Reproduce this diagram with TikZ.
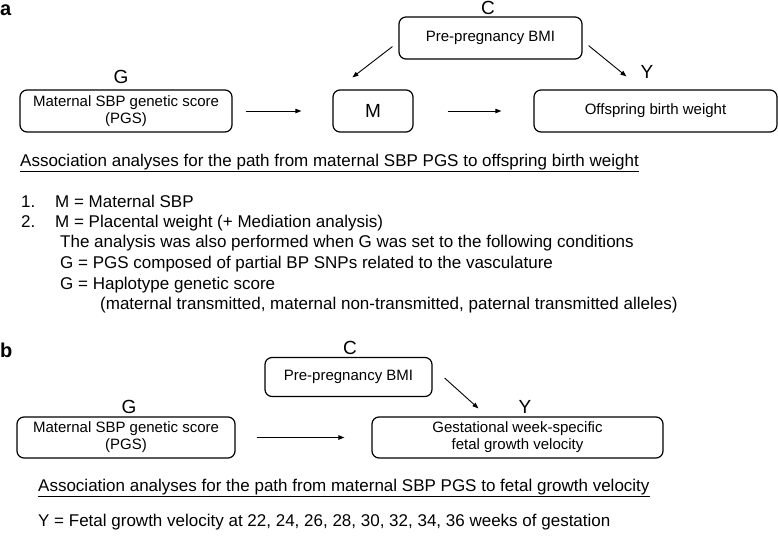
\documentclass[tikz,border=0pt]{standalone}
\usepackage{fontspec}
\setmainfont{Liberation Sans}
\usetikzlibrary{arrows.meta}
\begin{document}
\begin{tikzpicture}[x=1pt,y=-1pt,
 box/.style={draw, rounded corners=7pt, line width=1.2pt, inner sep=0pt, align=center, font=\fontsize{15}{17}\selectfont},
 lbl/.style={font=\fontsize{19}{20}\selectfont, inner sep=0pt},
 txt/.style={font=\fontsize{17}{20}\selectfont, inner sep=0pt, anchor=west, text height=12.5pt, text depth=3.5pt},
 panel/.style={font=\fontsize{20}{20}\selectfont\bfseries, inner sep=0pt, anchor=west},
 arr/.style={-{Triangle[length=6pt,width=4.5pt]}, line width=0.9pt}]
\useasboundingbox (0,0) rectangle (778,538);

% ---------- panel a ----------
\node[panel] (pa) at (0,10) {a};
\node[box, minimum width=212pt, minimum height=42pt] (Ga) at (126,111) {Maternal SBP genetic score\\(PGS)};
\node[box, minimum width=80pt, minimum height=42pt, font=\fontsize{19}{20}\selectfont] (Ma) at (373,111) {M};
\node[box, minimum width=243pt, minimum height=42pt] (Ya) at (655.5,111) {Offspring birth weight};
\node[box, minimum width=183pt, minimum height=42pt] (Ca) at (490.5,38) {Pre-pregnancy BMI};
\node[lbl] (lGa) at (121,77) {G};
\node[lbl] (lCa) at (488,8) {C};
\node[lbl] (lYa) at (647,72) {Y};

\draw[arr, shorten <=13pt, shorten >=31pt] (Ga.east) -- (Ma.west);
\draw[arr, shorten <=34pt, shorten >=32pt] (Ma.east) -- (Ya.west);
\draw[arr] ([shift={(-6,-13)}]Ca.south west) -- ([shift={(20,-12)}]Ma.north west);
\draw[arr] ([shift={(6,-14)}]Ca.south east) -- ([shift={(93,-13)}]Ya.north west);

\node[txt] (ha) at (20,162) {\underline{Association analyses for the path from maternal SBP PGS to offspring birth weight}};
\node[txt] (n1) at (21,203) {1.};
\node[txt] (t1) at (55,203) {M = Maternal SBP};
\node[txt] (n2) at (21,223) {2.};
\node[txt] (t2) at (55,223) {M = Placental weight (+ Mediation analysis)};
\node[txt] (t3) at (60,243) {The analysis was also performed when G was set to the following conditions};
\node[txt] (t4) at (60,264) {G = PGS composed of partial BP SNPs related to the vasculature};
\node[txt] (t5) at (60,285) {G = Haplotype genetic score};
\node[txt] (t6) at (100,305) {(maternal transmitted, maternal non-transmitted, paternal transmitted alleles)};

% ---------- panel b ----------
\node[panel] (pb) at (0,350) {b};
\node[box, minimum width=167pt, minimum height=39pt] (Cb) at (348.5,377) {Pre-pregnancy BMI};
\node[box, minimum width=218pt, minimum height=41pt] (Gb) at (126,437.5) {Maternal SBP genetic score\\(PGS)};
\node[box, minimum width=291pt, minimum height=41pt] (Yb) at (517.5,437.5) {Gestational week-specific\\fetal growth velocity};
\node[lbl] (lCb) at (350,348) {C};
\node[lbl] (lGb) at (129,407) {G};
\node[lbl] (lYb) at (525,407) {Y};

\draw[arr, shorten <=21pt, shorten >=27pt] (Gb.east) -- (Yb.west);
\draw[arr] ([shift={(12,1)}]Cb.east) -- ([shift={(107,-8)}]Yb.north west);

\node[txt] (hb) at (38,487) {\underline{Association analyses for the path from maternal SBP PGS to fetal growth velocity}};
\node[txt] (tb) at (38,522) {Y = Fetal growth velocity at 22, 24, 26, 28, 30, 32, 34, 36 weeks of gestation};
\end{tikzpicture}
\end{document}
